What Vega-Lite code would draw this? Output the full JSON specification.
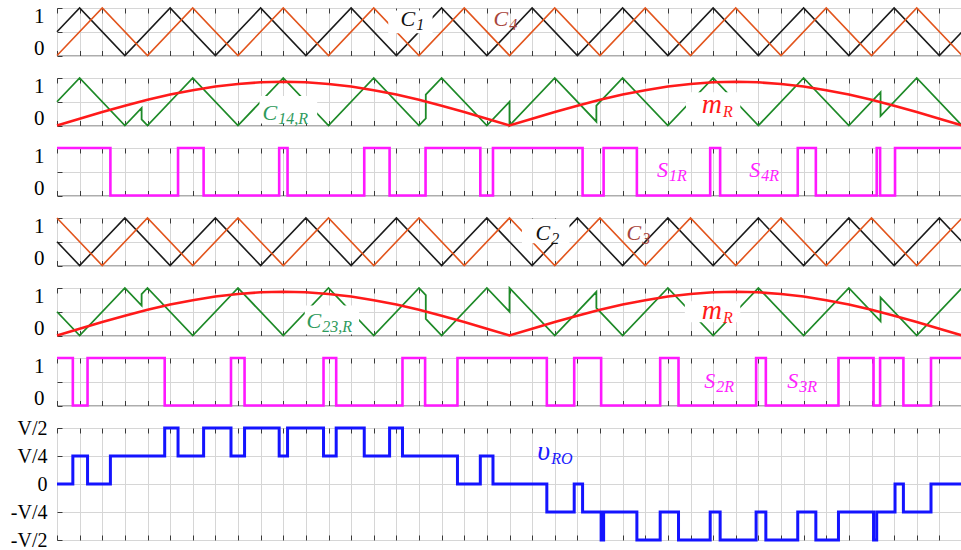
{
"$schema": "https://vega.github.io/schema/vega-lite/v6.json",
"padding": {"left": 9, "top": 4, "right": 0, "bottom": 12},
"bounds": "flush",
"spacing": 22,
"resolve": {"scale": {"x": "independent", "y": "independent"}},
"datasets": {
"c1": [{"x":0,"v":0.5},{"x":1,"v":1},{"x":3,"v":0},{"x":5,"v":1},{"x":7,"v":0},{"x":9,"v":1},{"x":11,"v":0},{"x":13,"v":1},{"x":15,"v":0},{"x":17,"v":1},{"x":19,"v":0},{"x":21,"v":1},{"x":23,"v":0},{"x":25,"v":1},{"x":27,"v":0},{"x":29,"v":1},{"x":31,"v":0},{"x":33,"v":1},{"x":35,"v":0},{"x":37,"v":1},{"x":39,"v":0},{"x":40,"v":0.5}],
"c4": [{"x":0,"v":0},{"x":2,"v":1},{"x":4,"v":0},{"x":6,"v":1},{"x":8,"v":0},{"x":10,"v":1},{"x":12,"v":0},{"x":14,"v":1},{"x":16,"v":0},{"x":18,"v":1},{"x":20,"v":0},{"x":22,"v":1},{"x":24,"v":0},{"x":26,"v":1},{"x":28,"v":0},{"x":30,"v":1},{"x":32,"v":0},{"x":34,"v":1},{"x":36,"v":0},{"x":38,"v":1},{"x":40,"v":0}],
"c2": [{"x":0,"v":0.5},{"x":1,"v":0},{"x":3,"v":1},{"x":5,"v":0},{"x":7,"v":1},{"x":9,"v":0},{"x":11,"v":1},{"x":13,"v":0},{"x":15,"v":1},{"x":17,"v":0},{"x":19,"v":1},{"x":21,"v":0},{"x":23,"v":1},{"x":25,"v":0},{"x":27,"v":1},{"x":29,"v":0},{"x":31,"v":1},{"x":33,"v":0},{"x":35,"v":1},{"x":37,"v":0},{"x":39,"v":1},{"x":40,"v":0.5}],
"c3": [{"x":0,"v":1},{"x":2,"v":0},{"x":4,"v":1},{"x":6,"v":0},{"x":8,"v":1},{"x":10,"v":0},{"x":12,"v":1},{"x":14,"v":0},{"x":16,"v":1},{"x":18,"v":0},{"x":20,"v":1},{"x":22,"v":0},{"x":24,"v":1},{"x":26,"v":0},{"x":28,"v":1},{"x":30,"v":0},{"x":32,"v":1},{"x":34,"v":0},{"x":36,"v":1},{"x":38,"v":0},{"x":40,"v":1}],
"g14": [{"x":0,"v":0.5},{"x":1,"v":1},{"x":3,"v":0},{"x":3.74,"v":0.37},{"x":3.74,"v":0.13},{"x":4,"v":0},{"x":6,"v":1},{"x":8,"v":0},{"x":10,"v":1},{"x":12,"v":0},{"x":14,"v":1},{"x":16,"v":0},{"x":16.3,"v":0.15},{"x":16.3,"v":0.65},{"x":17,"v":1},{"x":19,"v":0},{"x":20,"v":0.5},{"x":20,"v":0},{"x":22,"v":1},{"x":23.84,"v":0.08},{"x":23.84,"v":0.42},{"x":25,"v":1},{"x":27,"v":0},{"x":29,"v":1},{"x":31,"v":0},{"x":33,"v":1},{"x":35,"v":0},{"x":36.4,"v":0.7},{"x":36.4,"v":0.2},{"x":38,"v":1},{"x":40,"v":0}],
"g23": [{"x":0,"v":0.5},{"x":1,"v":0},{"x":3,"v":1},{"x":3.74,"v":0.63},{"x":3.74,"v":0.87},{"x":4,"v":1},{"x":6,"v":0},{"x":8,"v":1},{"x":10,"v":0},{"x":12,"v":1},{"x":14,"v":0},{"x":16,"v":1},{"x":16.3,"v":0.85},{"x":16.3,"v":0.35},{"x":17,"v":0},{"x":19,"v":1},{"x":20,"v":0.5},{"x":20,"v":1},{"x":22,"v":0},{"x":23.84,"v":0.92},{"x":23.84,"v":0.58},{"x":25,"v":0},{"x":27,"v":1},{"x":29,"v":0},{"x":31,"v":1},{"x":33,"v":0},{"x":35,"v":1},{"x":36.4,"v":0.3},{"x":36.4,"v":0.8},{"x":38,"v":0},{"x":40,"v":1}],
"mr": [{"x":0,"v":0},{"x":1,"v":0.144},{"x":2,"v":0.284},{"x":3,"v":0.418},{"x":4,"v":0.541},{"x":5,"v":0.651},{"x":6,"v":0.744},{"x":7,"v":0.82},{"x":8,"v":0.875},{"x":9,"v":0.909},{"x":10,"v":0.92},{"x":11,"v":0.909},{"x":12,"v":0.875},{"x":13,"v":0.82},{"x":14,"v":0.744},{"x":15,"v":0.651},{"x":16,"v":0.541},{"x":17,"v":0.418},{"x":18,"v":0.284},{"x":19,"v":0.144},{"x":20,"v":0},{"x":21,"v":0.144},{"x":22,"v":0.284},{"x":23,"v":0.418},{"x":24,"v":0.541},{"x":25,"v":0.651},{"x":26,"v":0.744},{"x":27,"v":0.82},{"x":28,"v":0.875},{"x":29,"v":0.909},{"x":30,"v":0.92},{"x":31,"v":0.909},{"x":32,"v":0.875},{"x":33,"v":0.82},{"x":34,"v":0.744},{"x":35,"v":0.651},{"x":36,"v":0.541},{"x":37,"v":0.418},{"x":38,"v":0.284},{"x":39,"v":0.144},{"x":40,"v":0}],
"s1": [{"x":0,"v":1},{"x":2.36,"v":0},{"x":5.35,"v":1},{"x":6.48,"v":0},{"x":9.82,"v":1},{"x":10.19,"v":0},{"x":13.58,"v":1},{"x":14.7,"v":0},{"x":16.29,"v":1},{"x":18.71,"v":0},{"x":19.27,"v":1},{"x":23.23,"v":0},{"x":24.16,"v":1},{"x":25.63,"v":0},{"x":28.87,"v":1},{"x":29.31,"v":0},{"x":32.74,"v":1},{"x":33.54,"v":0},{"x":36.23,"v":1},{"x":36.38,"v":0},{"x":37.04,"v":1},{"x":40,"v":1}],
"s2": [{"x":0,"v":1},{"x":0.7,"v":0},{"x":1.35,"v":1},{"x":4.76,"v":0},{"x":7.69,"v":1},{"x":8.29,"v":0},{"x":11.78,"v":1},{"x":12.34,"v":0},{"x":15.27,"v":1},{"x":16.27,"v":0},{"x":17.7,"v":1},{"x":21.65,"v":0},{"x":22.86,"v":1},{"x":24.05,"v":0},{"x":26.66,"v":1},{"x":27.47,"v":0},{"x":30.9,"v":1},{"x":31.33,"v":0},{"x":34.54,"v":1},{"x":36.09,"v":0},{"x":36.38,"v":1},{"x":37.41,"v":0},{"x":38.63,"v":1},{"x":40,"v":1}],
"vro": [{"x":0,"v":0},{"x":0.7,"v":0.25},{"x":1.35,"v":0},{"x":2.36,"v":0.25},{"x":4.76,"v":0.5},{"x":5.35,"v":0.25},{"x":6.48,"v":0.5},{"x":7.69,"v":0.25},{"x":8.29,"v":0.5},{"x":9.82,"v":0.25},{"x":10.19,"v":0.5},{"x":11.78,"v":0.25},{"x":12.34,"v":0.5},{"x":13.58,"v":0.25},{"x":14.7,"v":0.5},{"x":15.27,"v":0.25},{"x":17.7,"v":0},{"x":18.71,"v":0.25},{"x":19.27,"v":0},{"x":21.65,"v":-0.25},{"x":22.86,"v":0},{"x":23.23,"v":-0.25},{"x":24.05,"v":-0.5},{"x":24.16,"v":-0.25},{"x":25.63,"v":-0.5},{"x":26.66,"v":-0.25},{"x":27.47,"v":-0.5},{"x":28.87,"v":-0.25},{"x":29.31,"v":-0.5},{"x":30.9,"v":-0.25},{"x":31.33,"v":-0.5},{"x":32.74,"v":-0.25},{"x":33.54,"v":-0.5},{"x":34.54,"v":-0.25},{"x":36.09,"v":-0.5},{"x":36.23,"v":-0.25},{"x":37.04,"v":0},{"x":37.41,"v":-0.25},{"x":38.63,"v":0},{"x":40,"v":0}],
"labels": [
{"p":1,"s":"C1","x":15.83,"y":0.616,"m":"C","sub":"1"},
{"p":1,"s":"C4","x":19.94,"y":0.616,"m":"C","sub":"4"},
{"p":2,"s":"C14R","x":9.73,"y":0.12,"m":"C","sub":"14,R"},
{"p":2,"s":"mR","x":29.39,"y":0.27,"m":"m","sub":"R"},
{"p":3,"s":"S","x":27.0,"y":0.38,"m":"S","sub":"1R"},
{"p":3,"s":"S","x":31.08,"y":0.38,"m":"S","sub":"4R"},
{"p":4,"s":"C2","x":21.8,"y":0.54,"m":"C","sub":"2"},
{"p":4,"s":"C3","x":25.82,"y":0.54,"m":"C","sub":"3"},
{"p":5,"s":"C14R","x":11.68,"y":0.15,"m":"C","sub":"23,R"},
{"p":5,"s":"mR","x":29.39,"y":0.35,"m":"m","sub":"R"},
{"p":6,"s":"S","x":29.09,"y":0.36,"m":"S","sub":"2R"},
{"p":6,"s":"S","x":32.76,"y":0.36,"m":"S","sub":"3R"},
{"p":7,"s":"v","x":21.8,"y":0.21,"m":"υ","sub":"RO"}
],
"boxes": [
{"p":1,"x0":14.64,"x1":16.6,"y0":0.47,"y1":0.95},
{"p":2,"x0":8.95,"x1":11.5,"y0":0.04,"y1":0.62},
{"p":2,"x0":27.8,"x1":30.2,"y0":0.08,"y1":0.7},
{"p":4,"x0":20.55,"x1":22.65,"y0":0.47,"y1":0.98},
{"p":5,"x0":10.95,"x1":13.35,"y0":0.02,"y1":0.63},
{"p":5,"x0":27.75,"x1":30.2,"y0":0.28,"y1":0.72}
]
},
"vconcat": [
{"width":905,"height":47.5,"resolve":{"axis":{"x":"independent","y":"independent"}},
"layer":[
{"data":{"name":"c1"},"mark":{"type":"line","color":"#1c1c1c","strokeWidth":1.6},
"encoding":{"x":{"field":"x","type":"quantitative","scale":{"domain":[0,40],"nice":false},"axis":{"orient":"bottom","grid":true,"title":null}},
"y":{"field":"v","type":"quantitative","scale":{"domain":[0,1],"nice":false},"axis":{"values":[0,0.5,1],"labelExpr":"datum.value == 0.5 ? '' : datum.value == 1 ? '1' : '0'","labelFlush":true,"labelFlushOffset":3,"labelOverlap":false,"labelPadding":18,"title":null}}}},
{"data":{"name":"c4"},"mark":{"type":"line","color":"#e2551d","strokeWidth":1.6},
"encoding":{"x":{"field":"x","type":"quantitative","axis":null},"y":{"field":"v","type":"quantitative","axis":null}}},
{"data":{"name":"boxes"},"transform":[{"filter":"datum.p == 1"}],"mark":{"type":"rect","color":"#ffffff"},
"encoding":{"x":{"field":"x0","type":"quantitative","axis":null},"x2":{"field":"x1"},"y":{"field":"y0","type":"quantitative","axis":null},"y2":{"field":"y1"}}},
{"data":{"name":"labels"},"transform":[{"filter":"datum.p == 1"}],"mark":{"type":"text","align":"right","baseline":"alphabetic","font":"Liberation Serif","fontStyle":"italic","fontSize":22},
"encoding":{"x":{"field":"x","type":"quantitative","axis":null},"y":{"field":"y","type":"quantitative","axis":null},"text":{"field":"m"},
"color":{"field":"s","type":"nominal","scale":{"domain":["C1","C4","C14R","mR","S","C2","C3","v"],"range":["#111111","#a8453c","#2e9a5c","#ff1a1a","#ff22ff","#111111","#a8453c","#1a1aff"]},"legend":null}}},
{"data":{"name":"labels"},"transform":[{"filter":"datum.p == 1"}],"mark":{"type":"text","align":"left","baseline":"alphabetic","font":"Liberation Serif","fontStyle":"italic","fontSize":16,"dx":1,"dy":4},
"encoding":{"x":{"field":"x","type":"quantitative","axis":{"orient":"top","title":null}},"y":{"field":"y","type":"quantitative","axis":null},"text":{"field":"sub"},
"color":{"field":"s","type":"nominal","scale":{"domain":["C1","C4","C14R","mR","S","C2","C3","v"],"range":["#111111","#a8453c","#2e9a5c","#ff1a1a","#ff22ff","#111111","#a8453c","#1a1aff"]},"legend":null}}}
]},
{"width":905,"height":47.5,"resolve":{"axis":{"x":"independent","y":"independent"}},
"layer":[
{"data":{"name":"g14"},"mark":{"type":"line","color":"#1e8a28","strokeWidth":1.8},
"encoding":{"x":{"field":"x","type":"quantitative","scale":{"domain":[0,40],"nice":false},"axis":{"orient":"bottom","grid":true,"title":null}},
"y":{"field":"v","type":"quantitative","scale":{"domain":[0,1],"nice":false},"axis":{"values":[0,0.5,1],"labelExpr":"datum.value == 0.5 ? '' : datum.value == 1 ? '1' : '0'","labelFlush":true,"labelFlushOffset":3,"labelOverlap":false,"labelPadding":18,"title":null}}}},
{"data":{"name":"boxes"},"transform":[{"filter":"datum.p == 2"}],"mark":{"type":"rect","color":"#ffffff"},
"encoding":{"x":{"field":"x0","type":"quantitative","axis":null},"x2":{"field":"x1"},"y":{"field":"y0","type":"quantitative","axis":null},"y2":{"field":"y1"}}},
{"data":{"name":"mr"},"mark":{"type":"line","color":"#ff1a1a","strokeWidth":2.6},
"encoding":{"x":{"field":"x","type":"quantitative","axis":null},"y":{"field":"v","type":"quantitative","axis":null}}},
{"data":{"name":"labels"},"transform":[{"filter":"datum.p == 2 && datum.s != 'mR'"}],"mark":{"type":"text","align":"right","baseline":"alphabetic","font":"Liberation Serif","fontStyle":"italic","fontSize":22},
"encoding":{"x":{"field":"x","type":"quantitative","axis":null},"y":{"field":"y","type":"quantitative","axis":null},"text":{"field":"m"},
"color":{"field":"s","type":"nominal","scale":{"domain":["C1","C4","C14R","mR","S","C2","C3","v"],"range":["#111111","#a8453c","#2e9a5c","#ff1a1a","#ff22ff","#111111","#a8453c","#1a1aff"]},"legend":null}}},
{"data":{"name":"labels"},"transform":[{"filter":"datum.p == 2 && datum.s == 'mR'"}],"mark":{"type":"text","align":"right","baseline":"alphabetic","font":"Liberation Serif","fontStyle":"italic","fontSize":28},
"encoding":{"x":{"field":"x","type":"quantitative","axis":null},"y":{"field":"y","type":"quantitative","axis":null},"text":{"field":"m"},
"color":{"field":"s","type":"nominal","scale":{"domain":["C1","C4","C14R","mR","S","C2","C3","v"],"range":["#111111","#a8453c","#2e9a5c","#ff1a1a","#ff22ff","#111111","#a8453c","#1a1aff"]},"legend":null}}},
{"data":{"name":"labels"},"transform":[{"filter":"datum.p == 2"}],"mark":{"type":"text","align":"left","baseline":"alphabetic","font":"Liberation Serif","fontStyle":"italic","fontSize":16,"dx":1,"dy":4},
"encoding":{"x":{"field":"x","type":"quantitative","axis":{"orient":"top","title":null}},"y":{"field":"y","type":"quantitative","axis":null},"text":{"field":"sub"},
"color":{"field":"s","type":"nominal","scale":{"domain":["C1","C4","C14R","mR","S","C2","C3","v"],"range":["#111111","#a8453c","#2e9a5c","#ff1a1a","#ff22ff","#111111","#a8453c","#1a1aff"]},"legend":null}}}
]},
{"width":905,"height":47.5,"resolve":{"axis":{"x":"independent","y":"independent"}},
"layer":[
{"data":{"name":"s1"},"mark":{"type":"line","color":"#ff19ff","strokeWidth":2.6,"interpolate":"step-after"},
"encoding":{"x":{"field":"x","type":"quantitative","scale":{"domain":[0,40],"nice":false},"axis":{"orient":"bottom","grid":true,"title":null}},
"y":{"field":"v","type":"quantitative","scale":{"domain":[0,1],"nice":false},"axis":{"values":[0,0.5,1],"labelExpr":"datum.value == 0.5 ? '' : datum.value == 1 ? '1' : '0'","labelFlush":true,"labelFlushOffset":3,"labelOverlap":false,"labelPadding":18,"title":null}}}},
{"data":{"name":"labels"},"transform":[{"filter":"datum.p == 3"}],"mark":{"type":"text","align":"right","baseline":"alphabetic","font":"Liberation Serif","fontStyle":"italic","fontSize":22},
"encoding":{"x":{"field":"x","type":"quantitative","axis":null},"y":{"field":"y","type":"quantitative","axis":null},"text":{"field":"m"},
"color":{"field":"s","type":"nominal","scale":{"domain":["C1","C4","C14R","mR","S","C2","C3","v"],"range":["#111111","#a8453c","#2e9a5c","#ff1a1a","#ff22ff","#111111","#a8453c","#1a1aff"]},"legend":null}}},
{"data":{"name":"labels"},"transform":[{"filter":"datum.p == 3"}],"mark":{"type":"text","align":"left","baseline":"alphabetic","font":"Liberation Serif","fontStyle":"italic","fontSize":16,"dx":1,"dy":4},
"encoding":{"x":{"field":"x","type":"quantitative","axis":{"orient":"top","title":null}},"y":{"field":"y","type":"quantitative","axis":null},"text":{"field":"sub"},
"color":{"field":"s","type":"nominal","scale":{"domain":["C1","C4","C14R","mR","S","C2","C3","v"],"range":["#111111","#a8453c","#2e9a5c","#ff1a1a","#ff22ff","#111111","#a8453c","#1a1aff"]},"legend":null}}}
]},
{"width":905,"height":47.5,"resolve":{"axis":{"x":"independent","y":"independent"}},
"layer":[
{"data":{"name":"c2"},"mark":{"type":"line","color":"#1c1c1c","strokeWidth":1.6},
"encoding":{"x":{"field":"x","type":"quantitative","scale":{"domain":[0,40],"nice":false},"axis":{"orient":"bottom","grid":true,"title":null}},
"y":{"field":"v","type":"quantitative","scale":{"domain":[0,1],"nice":false},"axis":{"values":[0,0.5,1],"labelExpr":"datum.value == 0.5 ? '' : datum.value == 1 ? '1' : '0'","labelFlush":true,"labelFlushOffset":3,"labelOverlap":false,"labelPadding":18,"title":null}}}},
{"data":{"name":"c3"},"mark":{"type":"line","color":"#e2551d","strokeWidth":1.6},
"encoding":{"x":{"field":"x","type":"quantitative","axis":null},"y":{"field":"v","type":"quantitative","axis":null}}},
{"data":{"name":"boxes"},"transform":[{"filter":"datum.p == 4"}],"mark":{"type":"rect","color":"#ffffff"},
"encoding":{"x":{"field":"x0","type":"quantitative","axis":null},"x2":{"field":"x1"},"y":{"field":"y0","type":"quantitative","axis":null},"y2":{"field":"y1"}}},
{"data":{"name":"labels"},"transform":[{"filter":"datum.p == 4"}],"mark":{"type":"text","align":"right","baseline":"alphabetic","font":"Liberation Serif","fontStyle":"italic","fontSize":22},
"encoding":{"x":{"field":"x","type":"quantitative","axis":null},"y":{"field":"y","type":"quantitative","axis":null},"text":{"field":"m"},
"color":{"field":"s","type":"nominal","scale":{"domain":["C1","C4","C14R","mR","S","C2","C3","v"],"range":["#111111","#a8453c","#2e9a5c","#ff1a1a","#ff22ff","#111111","#a8453c","#1a1aff"]},"legend":null}}},
{"data":{"name":"labels"},"transform":[{"filter":"datum.p == 4"}],"mark":{"type":"text","align":"left","baseline":"alphabetic","font":"Liberation Serif","fontStyle":"italic","fontSize":16,"dx":1,"dy":4},
"encoding":{"x":{"field":"x","type":"quantitative","axis":{"orient":"top","title":null}},"y":{"field":"y","type":"quantitative","axis":null},"text":{"field":"sub"},
"color":{"field":"s","type":"nominal","scale":{"domain":["C1","C4","C14R","mR","S","C2","C3","v"],"range":["#111111","#a8453c","#2e9a5c","#ff1a1a","#ff22ff","#111111","#a8453c","#1a1aff"]},"legend":null}}}
]},
{"width":905,"height":47.5,"resolve":{"axis":{"x":"independent","y":"independent"}},
"layer":[
{"data":{"name":"g23"},"mark":{"type":"line","color":"#1e8a28","strokeWidth":1.8},
"encoding":{"x":{"field":"x","type":"quantitative","scale":{"domain":[0,40],"nice":false},"axis":{"orient":"bottom","grid":true,"title":null}},
"y":{"field":"v","type":"quantitative","scale":{"domain":[0,1],"nice":false},"axis":{"values":[0,0.5,1],"labelExpr":"datum.value == 0.5 ? '' : datum.value == 1 ? '1' : '0'","labelFlush":true,"labelFlushOffset":3,"labelOverlap":false,"labelPadding":18,"title":null}}}},
{"data":{"name":"boxes"},"transform":[{"filter":"datum.p == 5"}],"mark":{"type":"rect","color":"#ffffff"},
"encoding":{"x":{"field":"x0","type":"quantitative","axis":null},"x2":{"field":"x1"},"y":{"field":"y0","type":"quantitative","axis":null},"y2":{"field":"y1"}}},
{"data":{"name":"mr"},"mark":{"type":"line","color":"#ff1a1a","strokeWidth":2.6},
"encoding":{"x":{"field":"x","type":"quantitative","axis":null},"y":{"field":"v","type":"quantitative","axis":null}}},
{"data":{"name":"labels"},"transform":[{"filter":"datum.p == 5 && datum.s != 'mR'"}],"mark":{"type":"text","align":"right","baseline":"alphabetic","font":"Liberation Serif","fontStyle":"italic","fontSize":22},
"encoding":{"x":{"field":"x","type":"quantitative","axis":null},"y":{"field":"y","type":"quantitative","axis":null},"text":{"field":"m"},
"color":{"field":"s","type":"nominal","scale":{"domain":["C1","C4","C14R","mR","S","C2","C3","v"],"range":["#111111","#a8453c","#2e9a5c","#ff1a1a","#ff22ff","#111111","#a8453c","#1a1aff"]},"legend":null}}},
{"data":{"name":"labels"},"transform":[{"filter":"datum.p == 5 && datum.s == 'mR'"}],"mark":{"type":"text","align":"right","baseline":"alphabetic","font":"Liberation Serif","fontStyle":"italic","fontSize":28},
"encoding":{"x":{"field":"x","type":"quantitative","axis":null},"y":{"field":"y","type":"quantitative","axis":null},"text":{"field":"m"},
"color":{"field":"s","type":"nominal","scale":{"domain":["C1","C4","C14R","mR","S","C2","C3","v"],"range":["#111111","#a8453c","#2e9a5c","#ff1a1a","#ff22ff","#111111","#a8453c","#1a1aff"]},"legend":null}}},
{"data":{"name":"labels"},"transform":[{"filter":"datum.p == 5"}],"mark":{"type":"text","align":"left","baseline":"alphabetic","font":"Liberation Serif","fontStyle":"italic","fontSize":16,"dx":1,"dy":4},
"encoding":{"x":{"field":"x","type":"quantitative","axis":{"orient":"top","title":null}},"y":{"field":"y","type":"quantitative","axis":null},"text":{"field":"sub"},
"color":{"field":"s","type":"nominal","scale":{"domain":["C1","C4","C14R","mR","S","C2","C3","v"],"range":["#111111","#a8453c","#2e9a5c","#ff1a1a","#ff22ff","#111111","#a8453c","#1a1aff"]},"legend":null}}}
]},
{"width":905,"height":47.5,"resolve":{"axis":{"x":"independent","y":"independent"}},
"layer":[
{"data":{"name":"s2"},"mark":{"type":"line","color":"#ff19ff","strokeWidth":2.6,"interpolate":"step-after"},
"encoding":{"x":{"field":"x","type":"quantitative","scale":{"domain":[0,40],"nice":false},"axis":{"orient":"bottom","grid":true,"title":null}},
"y":{"field":"v","type":"quantitative","scale":{"domain":[0,1],"nice":false},"axis":{"values":[0,0.5,1],"labelExpr":"datum.value == 0.5 ? '' : datum.value == 1 ? '1' : '0'","labelFlush":true,"labelFlushOffset":3,"labelOverlap":false,"labelPadding":18,"title":null}}}},
{"data":{"name":"labels"},"transform":[{"filter":"datum.p == 6"}],"mark":{"type":"text","align":"right","baseline":"alphabetic","font":"Liberation Serif","fontStyle":"italic","fontSize":22},
"encoding":{"x":{"field":"x","type":"quantitative","axis":null},"y":{"field":"y","type":"quantitative","axis":null},"text":{"field":"m"},
"color":{"field":"s","type":"nominal","scale":{"domain":["C1","C4","C14R","mR","S","C2","C3","v"],"range":["#111111","#a8453c","#2e9a5c","#ff1a1a","#ff22ff","#111111","#a8453c","#1a1aff"]},"legend":null}}},
{"data":{"name":"labels"},"transform":[{"filter":"datum.p == 6"}],"mark":{"type":"text","align":"left","baseline":"alphabetic","font":"Liberation Serif","fontStyle":"italic","fontSize":16,"dx":1,"dy":4},
"encoding":{"x":{"field":"x","type":"quantitative","axis":{"orient":"top","title":null}},"y":{"field":"y","type":"quantitative","axis":null},"text":{"field":"sub"},
"color":{"field":"s","type":"nominal","scale":{"domain":["C1","C4","C14R","mR","S","C2","C3","v"],"range":["#111111","#a8453c","#2e9a5c","#ff1a1a","#ff22ff","#111111","#a8453c","#1a1aff"]},"legend":null}}}
]},
{"width":905,"height":112,"resolve":{"axis":{"x":"independent","y":"independent"}},
"layer":[
{"data":{"name":"vro"},"mark":{"type":"line","color":"#1414ff","strokeWidth":3,"interpolate":"step-after"},
"encoding":{"x":{"field":"x","type":"quantitative","scale":{"domain":[0,40],"nice":false},"axis":{"orient":"bottom","grid":true,"title":null}},
"y":{"field":"v","type":"quantitative","scale":{"domain":[-0.5,0.5],"nice":false},"axis":{"values":[-0.5,-0.25,0,0.25,0.5],"labelExpr":"datum.value == 0.5 ? 'V/2' : datum.value == 0.25 ? 'V/4' : datum.value == 0 ? '0' : datum.value == -0.25 ? '-V/4' : '-V/2'","labelOverlap":false,"labelFontSize":20,"labelPadding":15,"title":null}}}},
{"data":{"name":"labels"},"transform":[{"filter":"datum.p == 7"}],"mark":{"type":"text","align":"right","baseline":"alphabetic","font":"Liberation Serif","fontStyle":"italic","fontSize":28},
"encoding":{"x":{"field":"x","type":"quantitative","axis":null},"y":{"field":"y","type":"quantitative","axis":null},"text":{"field":"m"},
"color":{"field":"s","type":"nominal","scale":{"domain":["C1","C4","C14R","mR","S","C2","C3","v"],"range":["#111111","#a8453c","#2e9a5c","#ff1a1a","#ff22ff","#111111","#a8453c","#1a1aff"]},"legend":null}}},
{"data":{"name":"labels"},"transform":[{"filter":"datum.p == 7"}],"mark":{"type":"text","align":"left","baseline":"alphabetic","font":"Liberation Serif","fontStyle":"italic","fontSize":16,"dx":1,"dy":4},
"encoding":{"x":{"field":"x","type":"quantitative","axis":{"orient":"top","title":null}},"y":{"field":"y","type":"quantitative","axis":null},"text":{"field":"sub"},
"color":{"field":"s","type":"nominal","scale":{"domain":["C1","C4","C14R","mR","S","C2","C3","v"],"range":["#111111","#a8453c","#2e9a5c","#ff1a1a","#ff22ff","#111111","#a8453c","#1a1aff"]},"legend":null}}}
]}
],
"config": {
"view": {"stroke": "#5a5a5a", "strokeWidth": 1},
"axis": {"domain": false, "gridColor": "#d6d6d6", "gridWidth": 1, "tickColor": "#3a3a3a", "tickWidth": 1, "tickSize": -5, "labelFont": "Liberation Serif", "labelFontSize": 21, "labelColor": "#000000", "labelPadding": 14},
"axisX": {"labels": false, "tickCount": 40, "grid": false},
"axisY": {"grid": true}
}
}
